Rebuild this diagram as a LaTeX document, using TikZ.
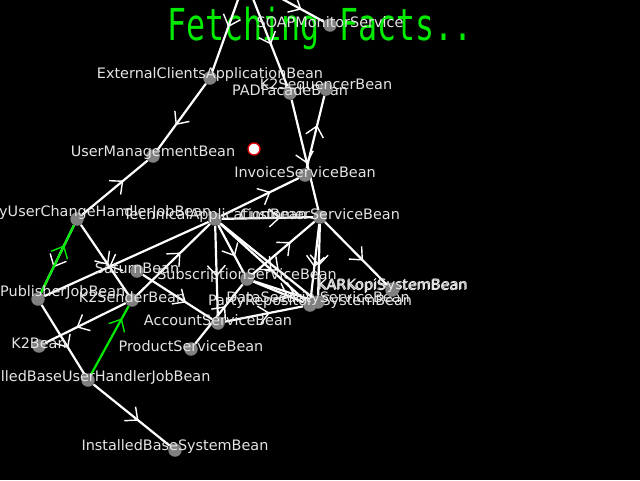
\documentclass[tikz,border=0pt]{standalone}
\usepackage{fontspec}
\newfontfamily\beanfont{DejaVu Sans}
\newfontfamily\fetchfont{DejaVu Sans Mono}
\usetikzlibrary{decorations.markings, positioning}
\pgfdeclarelayer{bg}
\pgfdeclarelayer{edges}
\pgfsetlayers{bg,edges,main}
\definecolor{beangray}{RGB}{128,128,128}
\definecolor{labelgray}{RGB}{228,228,228}
\definecolor{fetchgreen}{RGB}{0,235,0}
\definecolor{markred}{RGB}{225,0,0}

\begin{document}
\begin{tikzpicture}[x=1pt, y=-1pt,
        bean/.style={circle, fill=beangray, minimum size=13.5pt, inner sep=0pt},
        lbl/.style={label={[beantext]center:#1}},
        beantext/.style={anchor=base, yshift=3pt, inner sep=0pt, text=labelgray, font=\beanfont\fontsize{14.4}{16}\selectfont},
        marker/.style={circle, draw=markred, fill=white, line width=1.3pt, minimum size=12pt, inner sep=0pt},
        fetchtext/.style={anchor=base, inner sep=0pt, xscale=0.72, text=fetchgreen, font=\fetchfont\fontsize{44}{48}\selectfont},
        edge/.style={white, line width=2.2pt},
        greenedge/.style={fetchgreen, line width=2.2pt},
        arr/.style={postaction={decorate, decoration={markings, mark=at position #1 with {\draw[line width=1.4pt] (-1pt,9pt) -- (9pt,0pt) -- (-1pt,-9pt);}}}},
        arr/.default=0.5
    ]

    % --- 1. BACKGROUND AND TITLE ---
    \begin{pgfonlayer}{bg}
        \fill[black] (0,0) rectangle (640,480);
        \node [fetchtext] (fetch) at (320,40) {Fetching Facts..};
    \end{pgfonlayer}
    \useasboundingbox (0,0) rectangle (640,480);

    % --- 2. BEANS ---
    \node [bean, lbl=SOAPMonitorService] (soap) at (330,25) {};
    \node [bean, lbl=ExternalClientsApplicationBean] (extClients) at (210,78) {};
    \node [bean, lbl=PADFacadeBean] (padFacade) at (290,93) {};
    \node [bean, lbl=K2SequencerBean] (k2Seq) at (326,89) {};
    \node [bean, lbl=UserManagementBean] (userMgmt) at (153,156) {};
    \node [bean, lbl=InvoiceServiceBean] (invoice) at (305,175) {};
    \node [bean] (userChange) at (77,219) {};
    \node [beantext, anchor=base west] (userChangeL) at (-1,219) {yUserChangeHandlerJobBean};
    \node [bean, lbl=TechnicalApplicationBean] (tech) at (215,219) {};
    \node [bean, lbl=CustomerServiceBean] (customer) at (320,217) {};
    \node [bean, lbl=SaturnBean] (saturn) at (137,271) {};
    \node [bean] (publisher) at (38,299) {};
    \node [beantext, anchor=base west] (publisherL) at (0,299) {PublisherJobBean};
    \node [bean, lbl=K2SenderBean] (k2Sender) at (132,300) {};
    \node [bean, lbl=SubscriptionServiceBean] (subscr) at (247,279) {};
    \node [bean, lbl=PartyRepositorySystemBean] (partyRepo) at (310,305) {};
    \node [bean, lbl=DataSecurityServiceBean] (dataSec) at (318,302) {};
    \node [bean, lbl=KARKopiSystemBean] (karKopi) at (392,290) {};
    \node [bean, lbl=KARKopiSystemBean] (karKopiB) at (393,289) {};
    \node [bean, lbl=AccountServiceBean] (account) at (218,323) {};
    \node [bean, lbl=ProductServiceBean] (product) at (191,349) {};
    \node [bean, lbl=K2Bean] (k2Bean) at (39,346) {};
    \node [bean, lbl=InstalledBaseUserHandlerJobBean] (ibUser) at (88,380) {};
    \node [bean, lbl=InstalledBaseSystemBean] (ibSys) at (175,450) {};

    \node [marker] (cursor) at (254,149) {};

    % beans above the visible area
    \coordinate (offA) at (263,-70);
    \coordinate (offB) at (230,-60);
    \coordinate (offC) at (220,-35);

    % --- 3. DEPENDENCIES ---
    \begin{pgfonlayer}{edges}
        \draw [edge, arr=0.62] (offA) -- (extClients);
        \draw [edge, arr=0.65] (offB) -- (padFacade);
        \draw [edge, arr=0.7] (offC) -- (soap);

        \draw [edge, arr] (extClients) -- (userMgmt);
        \draw [edge, arr=0.51] (userChange) -- (userMgmt);
        \draw [edge, arr=0.46] (invoice) -- (k2Seq);
        \draw [edge, arr=0.49] (padFacade) -- (customer);
        \draw [edge, arr=0.52] (tech) -- (invoice);
        \draw [edge, arr=0.53] (tech) -- (customer);

        \draw [edge, arr=0.49] (userChange) -- (publisher);
        \draw [edge, arr] (publisher) -- (ibUser);
        \draw [edge, arr=0.46] (userChange) -- (k2Sender);
        \draw [edge, arr] (k2Sender) -- (k2Bean);
        \draw [edge, arr] (k2Sender) -- (tech);
        \draw [edge, arr=0.55] (tech) -- (publisher);
        \draw [edge, arr=0.49] (ibUser) -- (ibSys);
        \draw [edge, arr] (saturn) -- (account);

        \draw [edge, arr=0.45] (tech) -- (account);
        \draw [edge, arr=0.47] (tech) -- (subscr);
        \draw [edge, arr=0.52] (tech) -- (partyRepo);
        \draw [edge, arr=0.55] (tech) -- (dataSec);
        \draw [edge, arr=0.49] (subscr) -- (customer);
        \draw [edge, arr] (subscr) -- (partyRepo);
        \draw [edge, arr=0.55] (subscr) -- (dataSec);
        \draw [edge, arr=0.45] (customer) -- (partyRepo);
        \draw [edge, arr=0.45] (customer) -- (dataSec);
        \draw [edge, arr] (customer) -- (karKopi);
        \draw [edge, arr=0.45] (account) -- (partyRepo);
        \draw [edge, arr] (product) -- (subscr);

        % highlighted
        \draw [greenedge, arr=0.57] (publisher) -- (userChange);
        \draw [greenedge, arr=0.69] (ibUser) -- (k2Sender);
    \end{pgfonlayer}

\end{tikzpicture}
\end{document}
